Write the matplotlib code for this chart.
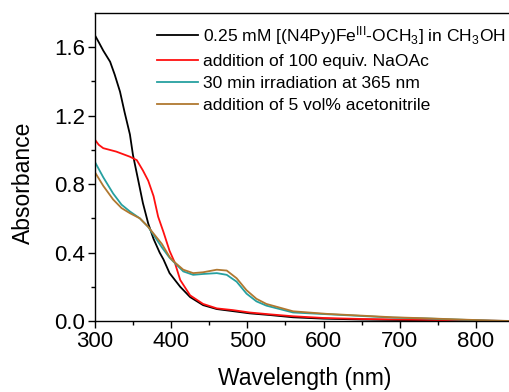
import matplotlib
matplotlib.use('Agg')
import matplotlib.pyplot as plt

plt.rcParams['font.family'] = ['Liberation Sans', 'DejaVu Sans']
plt.rcParams['mathtext.fontset'] = 'custom'
plt.rcParams['mathtext.rm'] = 'Liberation Sans'

# wavelength (nm) / absorbance
wl_black = [300, 305, 311, 320, 326, 333, 339, 346, 350, 357, 363, 370, 377, 385, 390,
            398, 412, 425, 442, 460, 481, 503, 530, 560, 600, 650, 700, 750, 800, 850]
abs_black = [1.67, 1.63, 1.58, 1.515, 1.44, 1.34, 1.22, 1.09, 0.97, 0.82, 0.69, 0.57,
             0.48, 0.40, 0.36, 0.28, 0.20, 0.14, 0.093, 0.07, 0.058, 0.045, 0.035,
             0.022, 0.014, 0.009, 0.006, 0.004, 0.002, 0.0]

wl_red = [300, 305, 311, 328, 346, 355, 363, 370, 377, 383, 390, 398, 405, 412, 425,
          442, 460, 481, 503, 530, 560, 600, 650, 700, 750, 800, 850]
abs_red = [1.06, 1.03, 1.01, 0.99, 0.96, 0.94, 0.88, 0.82, 0.73, 0.61, 0.52, 0.41,
           0.34, 0.24, 0.15, 0.10, 0.074, 0.064, 0.05, 0.039, 0.028, 0.018, 0.012,
           0.009, 0.006, 0.003, 0.0]

wl_teal = [300, 311, 324, 335, 346, 359, 370, 379, 388, 398, 416, 429, 442, 460,
           473, 486, 499, 512, 525, 560, 604, 648, 691, 735, 779, 820, 850]
abs_teal = [0.93, 0.84, 0.745, 0.68, 0.64, 0.60, 0.55, 0.49, 0.43, 0.37, 0.29, 0.27,
            0.275, 0.28, 0.27, 0.23, 0.16, 0.115, 0.09, 0.05, 0.04, 0.03, 0.02,
            0.015, 0.008, 0.002, 0.0]

wl_brown = [300, 311, 324, 335, 346, 359, 370, 379, 388, 398, 403, 416, 429, 442,
            460, 473, 486, 499, 512, 525, 560, 604, 648, 691, 735, 779, 820, 850]
abs_brown = [0.87, 0.79, 0.71, 0.66, 0.63, 0.60, 0.55, 0.50, 0.45, 0.375, 0.35, 0.30,
             0.28, 0.285, 0.30, 0.295, 0.25, 0.18, 0.13, 0.10, 0.057, 0.042, 0.032,
             0.022, 0.016, 0.009, 0.003, 0.0]

labels = [r'0.25 mM [(N4Py)Fe$\mathregular{^{III}}$-OCH$\mathregular{_3}$] in CH$\mathregular{_3}$OH',
          'addition of 100 equiv. NaOAc',
          '30 min irradiation at 365 nm',
          'addition of 5 vol% acetonitrile']
colors = ['black', '#ff1010', '#26a0a0', '#b07830']

fig = plt.figure(figsize=(5.10, 3.92), dpi=100)
ax = fig.add_axes([0.186, 0.181, 0.822, 0.786])

series = [(wl_black, abs_black), (wl_red, abs_red), (wl_teal, abs_teal), (wl_brown, abs_brown)]
for (x, y), c, lab in zip(series, colors, labels):
    ax.plot(x, y, color=c, lw=1.3, label=lab)

ax.set_xlim(300, 850)
ax.set_ylim(0, 1.8)
ax.set_xticks([300, 400, 500, 600, 700, 800])
ax.set_xticks([350, 450, 550, 650, 750], minor=True)
ax.set_yticks([0.0, 0.4, 0.8, 1.2, 1.6])
ax.set_yticks([0.2, 0.6, 1.0, 1.4], minor=True)
ax.yaxis.set_major_formatter(matplotlib.ticker.FormatStrFormatter('%.1f'))
ax.tick_params(which='major', direction='out', length=5, width=1, labelsize=16, pad=2)
ax.tick_params(which='minor', direction='out', length=3, width=1)
for s in ax.spines.values():
    s.set_linewidth(1.0)

ax.set_xlabel('Wavelength (nm)', fontsize=16.5, labelpad=11)
ax.set_ylabel('Absorbance', fontsize=16.5)
ax.yaxis.set_label_coords(-0.143, 0.448)

ax.legend(loc='upper left', bbox_to_anchor=(0.132, 0.988), frameon=False, fontsize=12.6,
          handlelength=2.35, handletextpad=0.25, labelspacing=0.4, borderaxespad=0)

fig.savefig('out.png', dpi=100)
